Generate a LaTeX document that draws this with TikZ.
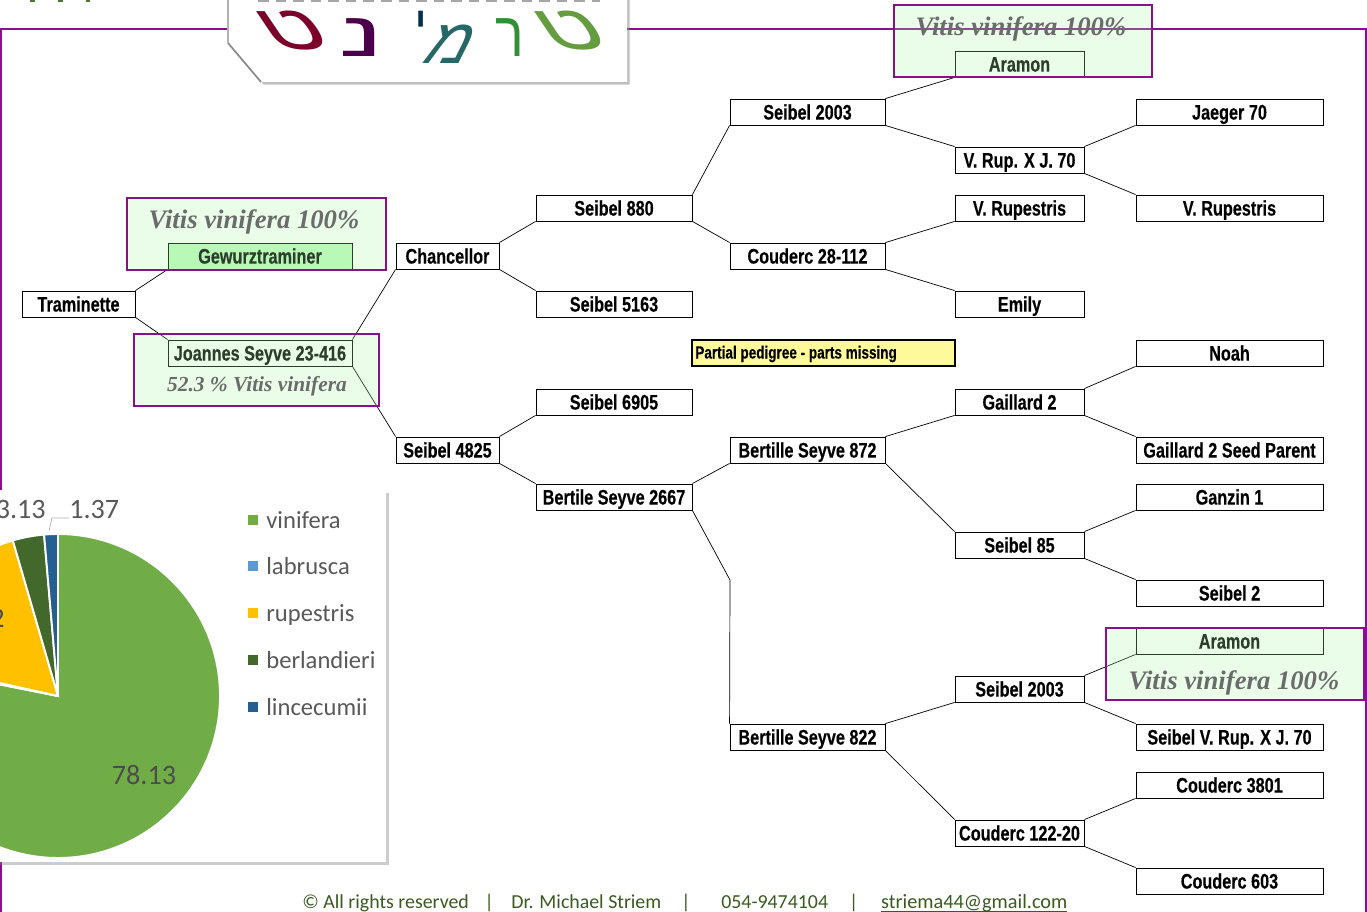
\documentclass[tikz,border=0pt]{standalone}
\usepackage{fontspec}
\usepackage{tikz}
\usetikzlibrary{shadows}
\newfontfamily\pedfont[FakeStretch=0.77,BoldFeatures={FakeStretch=0.77,FakeBold=0.3}]{Liberation Sans}
\newfontfamily\vitfont{Liberation Serif}
\newfontfamily\calfont{Carlito}
\newfontfamily\hebfont[Script=Hebrew]{Liberation Sans}
\definecolor{framepurple}{HTML}{8A0E8F}
\definecolor{overlaygreen}{HTML}{A8F8A8}
\definecolor{geworzgreen}{HTML}{BEFABE}
\definecolor{footgreen}{HTML}{3A5A20}
\definecolor{labelgrey}{HTML}{595959}
\definecolor{piegreen}{HTML}{70AD47}
\definecolor{pieblue}{HTML}{5B9BD5}
\definecolor{pieyellow}{HTML}{FFC000}
\definecolor{piedark}{HTML}{43682B}
\definecolor{pienavy}{HTML}{255E91}
\tikzset{
  ped/.style={draw,fill=white,line width=0.5pt,minimum height=0.52cm,inner sep=0pt,text height=8.6pt,text depth=0pt,font=\pedfont\bfseries\fontsize{12}{12}\selectfont},
  colzero/.style={ped,minimum width=2.26cm},
  colone/.style={ped,minimum width=3.68cm},
  coltwo/.style={ped,minimum width=2.06cm},
  colthree/.style={ped,minimum width=3.12cm},
  colfour/.style={ped,minimum width=3.10cm},
  colfive/.style={ped,minimum width=2.58cm},
  colsix/.style={ped,minimum width=3.74cm},
  vinbox/.style={draw=framepurple,line width=1.2pt,fill=overlaygreen,fill opacity=0.25,draw opacity=1,inner sep=0pt},
  vintext/.style={text=black!58,inner sep=0pt,font=\vitfont\bfseries\itshape\fontsize{15.2}{15.2}\selectfont},
  leg/.style={text=labelgrey,anchor=west,inner sep=0pt,text height=7pt,text depth=0pt,font=\calfont\fontsize{14}{14}\selectfont},
  pielab/.style={text=labelgrey,inner sep=0pt,font=\calfont\fontsize{16}{16}\selectfont},
  legkey/.style={minimum size=0.19cm,inner sep=0pt},
  heb/.style={inner sep=0pt,transform shape,font=\hebfont\fontsize{36}{36}\selectfont}
}
\begin{document}
\begin{tikzpicture}[x=0.02cm,y=-0.02cm]
\useasboundingbox (0,0) rectangle (1367,912);

\draw[framepurple,line width=1.2pt] (1,912) -- (1,29) -- (1366,29) -- (1366,912);
\draw[piegreen!70!black,line width=1.5pt,dash pattern=on 3pt off 13pt] (30,1) -- (90,1);

\node[fill=white,drop shadow={shadow xshift=1.5pt,shadow yshift=-1.5pt,opacity=0.4},minimum width=8.12cm,minimum height=7.44cm,inner sep=0pt] (piepanel) at (183,676) {};
\fill[piegreen,draw=white,line width=1.1pt] (58,696) -- ++(-90:162) arc (-90:191.27:162) -- cycle;
\fill[pieblue,draw=white,line width=1.1pt] (58,696) -- ++(191.27:162) arc (191.27:192.6:162) -- cycle;
\fill[pieyellow,draw=white,line width=1.1pt] (58,696) -- ++(192.6:162) arc (192.6:253.8:162) -- cycle;
\fill[piedark,draw=white,line width=1.1pt] (58,696) -- ++(253.8:162) arc (253.8:265.07:162) -- cycle;
\fill[pienavy,draw=white,line width=1.1pt] (58,696) -- ++(265.07:162) arc (265.07:270:162) -- cycle;

\node[pielab,anchor=east] (labelberl) at (46,509) {3.13};
\node[pielab,anchor=west] (labellinc) at (69,509) {1.37};
\node[pielab,text=black!70] (labelvin) at (144,775) {78.13};
\node[pielab,text=black!70,anchor=east] (labelrup) at (5,618) {2};
\coordinate (leaderend) at (49,531);
\draw[black!30,line width=0.4pt] (leaderend) -- (52,518) -- (labellinc.west |- 0,518);

\node[legkey,fill=piegreen] (keyvin) at (253,520) {};
\node[legkey,fill=pieblue] (keylab) at (253,566) {};
\node[legkey,fill=pieyellow] (keyrup) at (253,613) {};
\node[legkey,fill=piedark] (keyberl) at (253,660) {};
\node[legkey,fill=pienavy] (keylinc) at (253,707) {};
\node[leg] (legvin) at (266,522) {vinifera};
\node[leg] (leglab) at (266,568) {labrusca};
\node[leg] (legrup) at (266,615) {rupestris};
\node[leg] (legberl) at (266,662) {berlandieri};
\node[leg] (leglinc) at (266,709) {lincecumii};

\path[fill=white,drop shadow={shadow xshift=1.5pt,shadow yshift=-1.5pt,opacity=0.5}] (228,-5) -- (627,-5) -- (627,82) -- (261,82) -- (228,43) -- cycle;
\draw[black!30,line width=0.6pt] (228,-5) -- (228,43);
\draw[black!45,line width=1pt] (228,43) -- (261,82);
\draw[black!35!white,dash pattern=on 6pt off 4pt,line width=1.2pt] (258,1) -- (600,1);
\node[heb,xscale=1.5,xslant=-0.45,text=piegreen!90!black] (logotet) at (571,31) {ט};
\node[heb,xscale=0.85,text=green!45!black!80] (logoresh) at (510,38) {ר};
\node[heb,xslant=0.5,text=teal!60!black!85] (logomem) at (452,44) {מ};
\node[heb,scale=0.8,text=blue!25!teal!50!black] (logoyod) at (421,26) {י};
\node[heb,xscale=1.8,text=violet!60!black] (logonun) at (362,38) {נ};
\node[heb,xscale=1.5,xslant=-0.45,text=purple!65!black] (logotetb) at (293,31) {ט};

\node[colzero] (traminette) at (78.5,304) {Traminette};
\node[colone,fill=geworzgreen] (gewurz) at (260,256) {Gewurztraminer};
\node[colone] (joannes) at (260,353) {Joannes Seyve 23-416};
\node[coltwo] (chancellor) at (447.5,256) {Chancellor};
\node[coltwo] (seibelff) at (447.5,450) {Seibel 4825};
\node[colthree] (seibeleight) at (614,208) {Seibel 880};
\node[colthree] (seibelfive) at (614,304) {Seibel 5163};
\node[colthree] (seibelsix) at (614,402) {Seibel 6905};
\node[colthree] (bertile) at (614,497) {Bertile Seyve 2667};
\node[colfour] (seibeltwok) at (807.5,112) {Seibel 2003};
\node[colfour] (couderca) at (807.5,256) {Couderc 28-112};
\node[colfour] (bertilleb) at (807.5,450) {Bertille Seyve 872};
\node[colfour] (bertillec) at (807.5,737) {Bertille Seyve 822};
\node[colfive] (aramona) at (1019.5,64) {Aramon};
\node[colfive] (vrupj) at (1019.5,160) {V. Rup. X J. 70};
\node[colfive] (vrupa) at (1019.5,208) {V. Rupestris};
\node[colfive] (emily) at (1019.5,304) {Emily};
\node[colfive] (gaillard) at (1019.5,402) {Gaillard 2};
\node[colfive] (seibeleightfive) at (1019.5,545) {Seibel 85};
\node[colfive] (seibeltwokb) at (1019.5,689) {Seibel 2003};
\node[colfive] (coudercb) at (1019.5,833) {Couderc 122-20};
\node[colsix] (jaeger) at (1229.5,112) {Jaeger 70};
\node[colsix] (vrupb) at (1229.5,208) {V. Rupestris};
\node[colsix] (noah) at (1229.5,353) {Noah};
\node[colsix] (gaillardseed) at (1229.5,450) {Gaillard 2 Seed Parent};
\node[colsix] (ganzin) at (1229.5,497) {Ganzin 1};
\node[colsix] (seibeltwo) at (1229.5,593) {Seibel 2};
\node[colsix] (aramonb) at (1229.5,641) {Aramon};
\node[colsix] (seibelvrup) at (1229.5,737) {Seibel V. Rup. X J. 70};
\node[colsix] (coudercc) at (1229.5,785) {Couderc 3801};
\node[colsix] (coudercd) at (1229.5,881) {Couderc 603};

\draw (traminette.north east) -- (gewurz.south west);
\draw (traminette.south east) -- (joannes.north west);
\draw (joannes.north east) -- (chancellor.south west);
\draw (joannes.south east) -- (seibelff.north west);
\draw (chancellor.north east) -- (seibeleight.south west);
\draw (chancellor.south east) -- (seibelfive.north west);
\draw (seibelff.north east) -- (seibelsix.south west);
\draw (seibelff.south east) -- (bertile.north west);
\draw (seibeleight.north east) -- (seibeltwok.south west);
\draw (seibeleight.south east) -- (couderca.north west);
\draw (bertile.north east) -- (bertilleb.south west);
\coordinate (bend) at (730,580);
\draw (bertile.south east) -- (bend) -- (bertillec.north west);
\draw (seibeltwok.north east) -- (aramona.south west);
\draw (seibeltwok.south east) -- (vrupj.north west);
\draw (couderca.north east) -- (vrupa.south west);
\draw (couderca.south east) -- (emily.north west);
\draw (bertilleb.north east) -- (gaillard.south west);
\draw (bertilleb.south east) -- (seibeleightfive.north west);
\draw (bertillec.north east) -- (seibeltwokb.south west);
\draw (bertillec.south east) -- (coudercb.north west);
\draw (vrupj.north east) -- (jaeger.south west);
\draw (vrupj.south east) -- (vrupb.north west);
\draw (gaillard.north east) -- (noah.south west);
\draw (gaillard.south east) -- (gaillardseed.north west);
\draw (seibeleightfive.north east) -- (ganzin.south west);
\draw (seibeleightfive.south east) -- (seibeltwo.north west);
\draw (seibeltwokb.north east) -- (aramonb.south west);
\draw (seibeltwokb.south east) -- (seibelvrup.north west);
\draw (coudercb.north east) -- (coudercc.south west);
\draw (coudercb.south east) -- (coudercd.north west);

\node[vinbox,minimum width=5.18cm,minimum height=1.44cm] (boxa) at (256.5,234) {};
\node[vinbox,minimum width=4.90cm,minimum height=1.44cm] (boxb) at (256.5,370) {};
\node[vinbox,minimum width=5.16cm,minimum height=1.44cm] (boxc) at (1023,41) {};
\node[vinbox,minimum width=5.16cm,minimum height=1.44cm] (boxd) at (1235,664) {};
\node[vintext] (vitisa) at (254,222) {Vitis vinifera 100\%};
\node[vintext,font=\vitfont\bfseries\itshape\fontsize{12.2}{12.2}\selectfont] (vitisb) at (257,386) {52.3 \% Vitis vinifera};
\node[vintext] (vitisc) at (1021,29) {Vitis vinifera 100\%};
\node[vintext] (vitisd) at (1234,683) {Vitis vinifera 100\%};

\node[draw,line width=1pt,fill=yellow!40,minimum width=5.26cm,minimum height=0.52cm,inner sep=0pt] (note) at (823.5,353) {};
\node[anchor=west,inner sep=0pt,font=\pedfont\bfseries\fontsize{10}{10}\selectfont] (notetext) at (695,354) {Partial pedigree - parts missing};

\node[anchor=west,inner sep=0pt,text=footgreen,font=\calfont\fontsize{11.3}{11.3}\selectfont] (footer) at (302,903) {© All rights reserved\hspace{9pt}|\hspace{10pt}Dr. Michael Striem\hspace{11.5pt}|\hspace{17.5pt}054-9474104\hspace{12pt}|\hspace{13pt}{\fontsize{11.55}{11.55}\selectfont\underline{\smash{striema44@gmail.com}}}};
\end{tikzpicture}
\end{document}
